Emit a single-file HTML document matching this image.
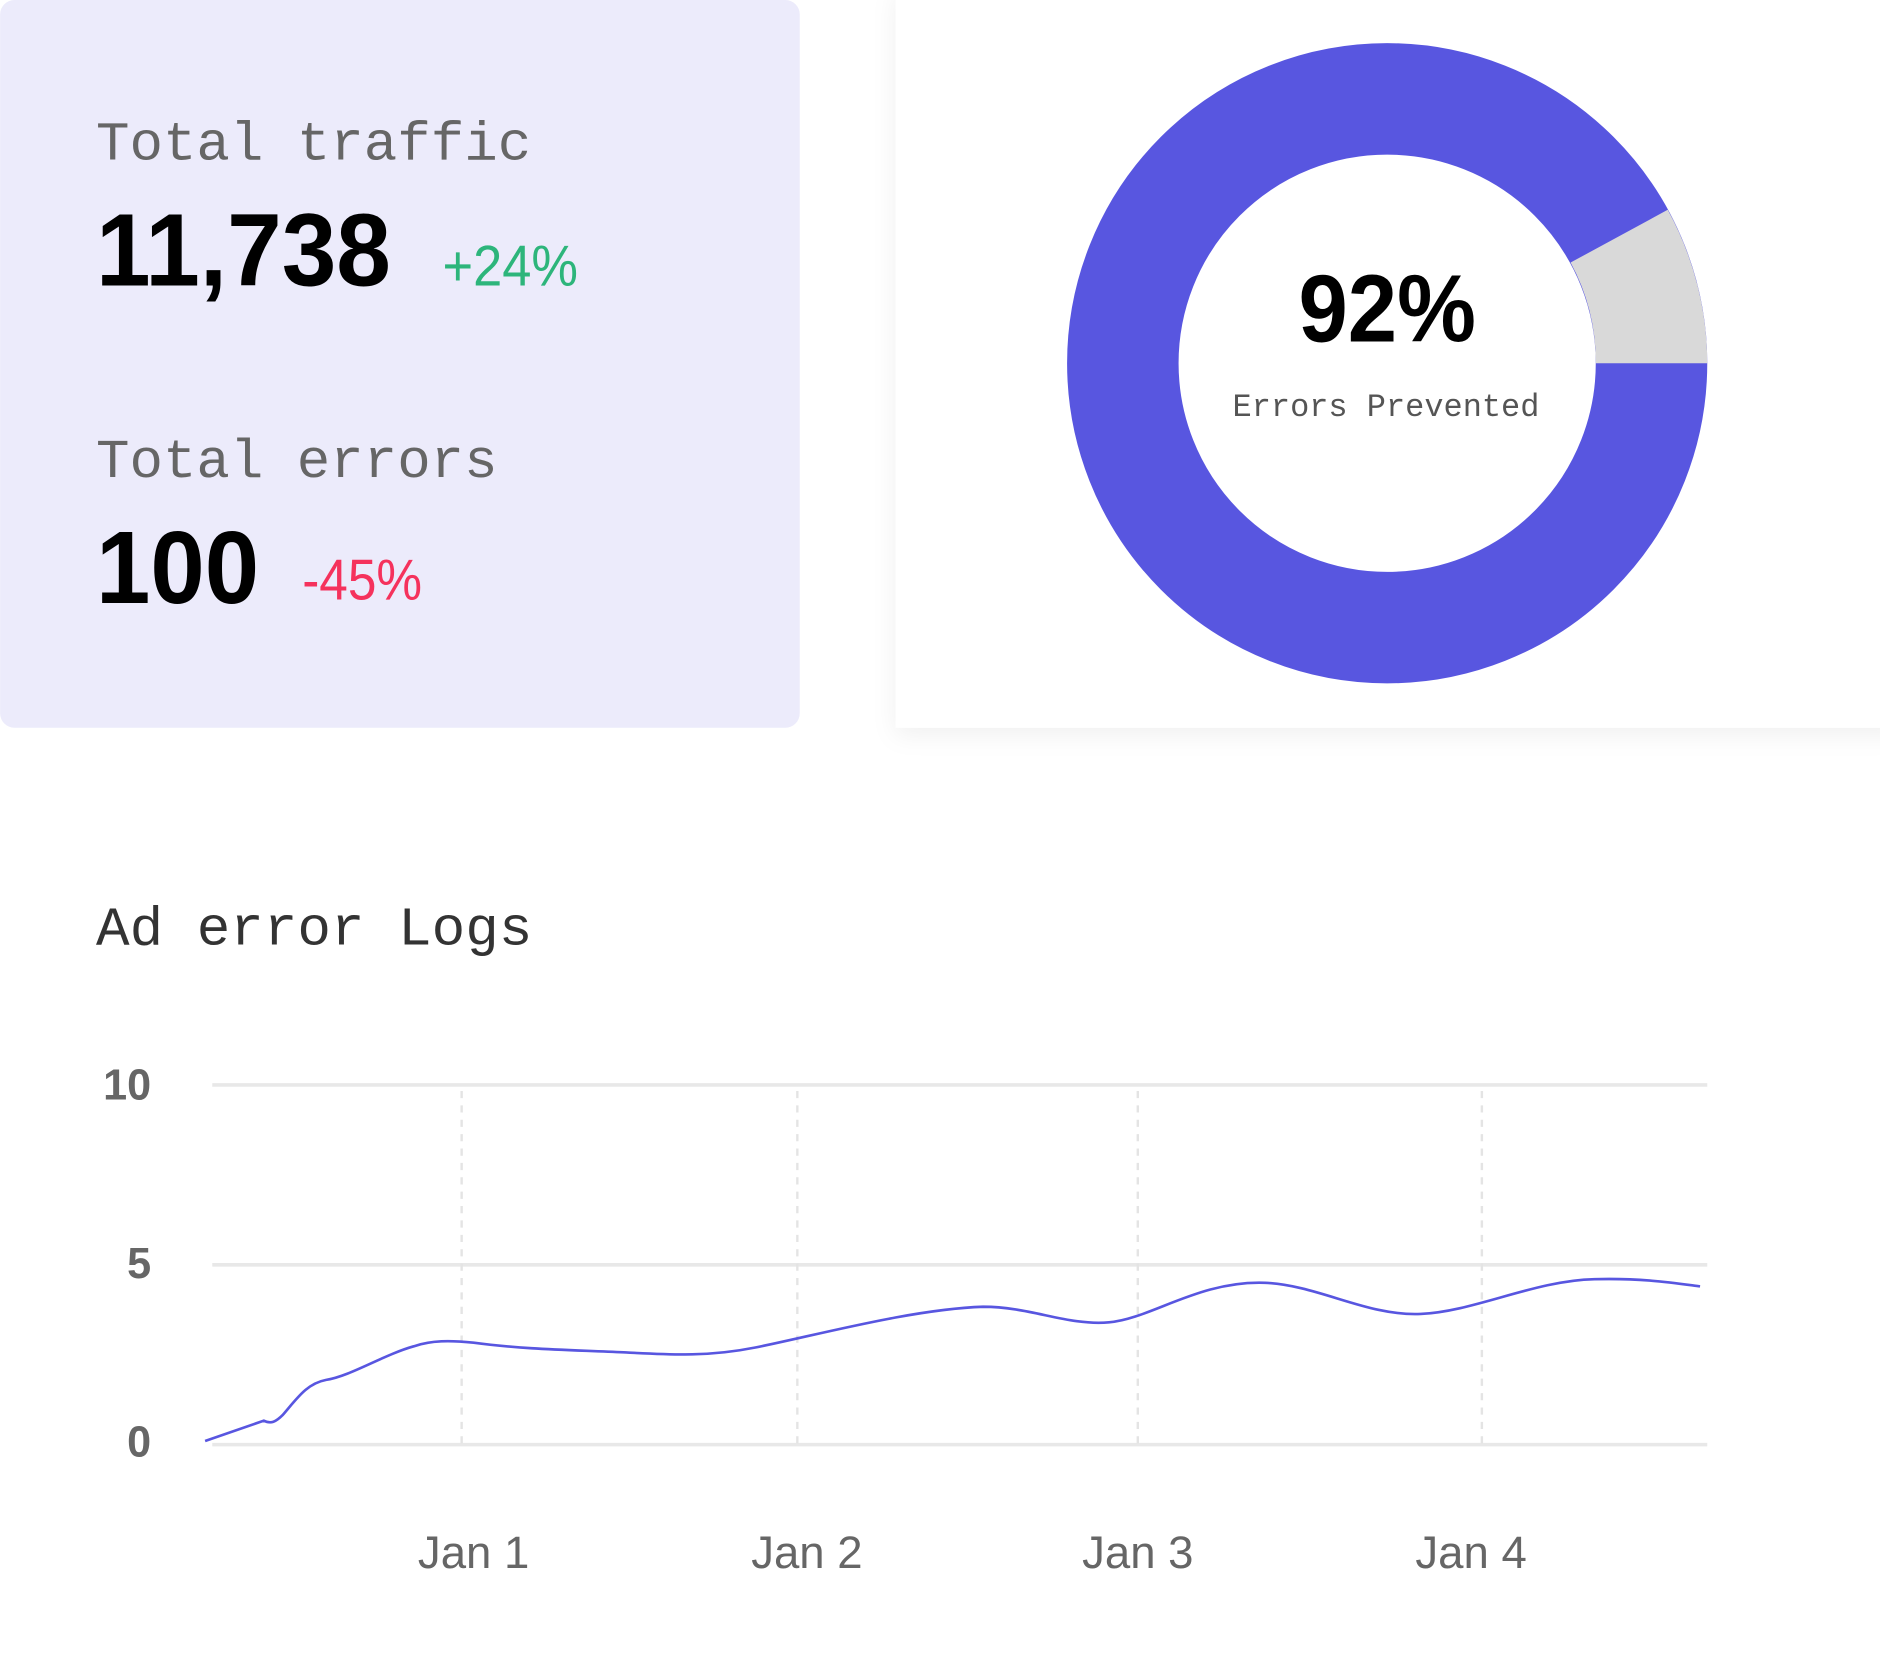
<!DOCTYPE html>
<html><head><meta charset="utf-8"><style>
html,body{margin:0;padding:0;background:#fff;}
svg{display:block;}
.mono{font-family:"Liberation Mono",monospace;}
.sans{font-family:"Liberation Sans",sans-serif;}
</style></head><body>
<svg width="1880" height="1676" viewBox="0 0 1568 1398" xmlns="http://www.w3.org/2000/svg">
<defs>
<filter id="sh" x="-10%" y="-10%" width="120%" height="130%">
<feDropShadow dx="0" dy="6" stdDeviation="10" flood-color="#000" flood-opacity="0.06"/>
</filter>
</defs>
<rect x="0" y="0" width="667" height="607" rx="12" fill="#ECEBFB"/>
<text class="mono" x="80" y="133" font-size="46" fill="#666" textLength="363" lengthAdjust="spacingAndGlyphs">Total traffic</text>
<text class="sans" x="80" y="238" font-size="86" font-weight="bold" fill="#000" textLength="246" lengthAdjust="spacingAndGlyphs">11,738</text>
<text class="sans" x="369" y="238" font-size="48" fill="#2DB57B" textLength="113" lengthAdjust="spacingAndGlyphs">+24%</text>
<text class="mono" x="80" y="398" font-size="46" fill="#666" textLength="335" lengthAdjust="spacingAndGlyphs">Total errors</text>
<text class="sans" x="80" y="503" font-size="86" font-weight="bold" fill="#000" textLength="136" lengthAdjust="spacingAndGlyphs">100</text>
<text class="sans" x="252" y="500" font-size="48" fill="#F5325C" textLength="100" lengthAdjust="spacingAndGlyphs">-45%</text>

<rect x="747" y="-10" width="840" height="617" fill="#fff" filter="url(#sh)"/>
<circle cx="1157" cy="303" r="220.5" fill="none" stroke="#5856E0" stroke-width="93"/>
<path d="M1424 303 L1331 303 A174 174 0 0 0 1310 219 L1391 175 A267 267 0 0 1 1424 303 Z" fill="#D9D9D9"/>
<text class="sans" x="1157" y="285" font-size="80" font-weight="bold" fill="#000" text-anchor="middle" textLength="148" lengthAdjust="spacingAndGlyphs">92%</text>
<text class="mono" x="1156" y="347" font-size="27" fill="#555" text-anchor="middle" textLength="256" lengthAdjust="spacingAndGlyphs">Errors Prevented</text>

<text class="mono" x="80" y="788" font-size="46" fill="#333" textLength="364" lengthAdjust="spacingAndGlyphs">Ad error Logs</text>

<g stroke="#E8E8E8" stroke-width="3">
<line x1="177" y1="905" x2="1424" y2="905"/>
<line x1="177" y1="1055" x2="1424" y2="1055"/>
<line x1="177" y1="1205" x2="1424" y2="1205"/>
</g>
<g stroke="#E4E4E4" stroke-width="2" stroke-dasharray="6,6">
<line x1="385" y1="910" x2="385" y2="1205"/>
<line x1="665" y1="910" x2="665" y2="1205"/>
<line x1="949" y1="910" x2="949" y2="1205"/>
<line x1="1236" y1="910" x2="1236" y2="1205"/>
</g>
<g class="sans" font-size="36" font-weight="bold" fill="#666" text-anchor="end">
<text x="126" y="917">10</text>
<text x="126" y="1066">5</text>
<text x="126" y="1215">0</text>
</g>
<g class="sans" font-size="38" fill="#666" text-anchor="middle">
<text x="395" y="1308">Jan 1</text>
<text x="673" y="1308">Jan 2</text>
<text x="949" y="1308">Jan 3</text>
<text x="1227" y="1308">Jan 4</text>
</g>
<path d="M171 1202 L220 1185 C226 1188 230 1186 236 1180 C248 1166 256 1154 272 1151 C292 1148 320 1130 345 1123 C360 1118 375 1118 395 1120 C440 1126 480 1126 520 1128 C560 1130 590 1132 630 1124 C680 1114 760 1092 820 1090 C860 1090 890 1106 925 1103 C960 1100 1000 1068 1055 1070 C1100 1072 1140 1098 1185 1096 C1230 1094 1280 1068 1330 1067 C1370 1066 1395 1070 1418 1073" fill="none" stroke="#5856E0" stroke-width="2.2"/>
</svg>
</body></html>
